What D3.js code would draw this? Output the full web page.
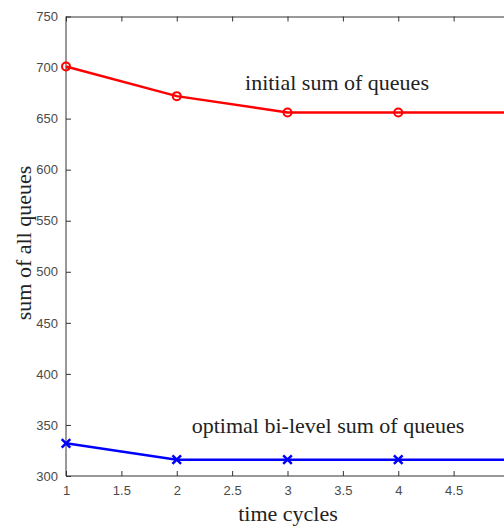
<!DOCTYPE html>
<html>
<head>
<meta charset="utf-8">
<script src="https://cdn.jsdelivr.net/npm/d3@7"></script>
<style>
  body { margin: 0; background: #fff; overflow: hidden; }
  svg { display: block; }
  .tick text { font-family: "Liberation Sans", Arial, sans-serif; font-size: 13px; fill: #4a4a4a; }
  .label { font-family: "Liberation Serif", "Times New Roman", serif; fill: #222; }
</style>
</head>
<body>
<svg id="chart" width="504" height="529"></svg>
<script>
const cycles = [1, 2, 3, 4, 5];
const initialSum = [701, 672, 656, 656, 656];
const optimalSum = [332, 316, 316, 316, 316];
const xTicks = [1, 1.5, 2, 2.5, 3, 3.5, 4, 4.5, 5];
const yTicks = [300, 350, 400, 450, 500, 550, 600, 650, 700, 750];

const margin = { left: 66, top: 16.5, right: 509, bottom: 476 };
const svg = d3.select('#chart');

const x = d3.scaleLinear().domain([1, 5]).range([margin.left, margin.right]);
const y = d3.scaleLinear().domain([300, 750]).range([margin.bottom, margin.top]);

const axisColor = '#333';

// bottom / left axes with inward ticks
const xAxis = svg.append('g')
  .attr('transform', `translate(0, ${margin.bottom})`)
  .call(d3.axisBottom(x).tickValues(xTicks).tickSizeInner(-5).tickSizeOuter(0).tickPadding(10)
    .tickFormat(d3.format('')));
const yAxis = svg.append('g')
  .attr('transform', `translate(${margin.left}, 0)`)
  .call(d3.axisLeft(y).tickValues(yTicks).tickSizeInner(-5).tickSizeOuter(0).tickPadding(8));

// top / right box axes
const xTop = svg.append('g')
  .attr('transform', `translate(0, ${margin.top})`)
  .call(d3.axisTop(x).tickValues(xTicks).tickSizeInner(-5).tickSizeOuter(0).tickFormat(''));
const yRight = svg.append('g')
  .attr('transform', `translate(${margin.right}, 0)`)
  .call(d3.axisRight(y).tickValues(yTicks).tickSizeInner(-5).tickSizeOuter(0).tickFormat(''));

[xAxis, yAxis, xTop, yRight].forEach(g => {
  g.selectAll('path.domain').attr('stroke', axisColor);
  g.selectAll('.tick line').attr('stroke', axisColor);
});
xAxis.select('path.domain').attr('d', `M${margin.left},0H${margin.right}`);
yAxis.select('path.domain').attr('d', `M0,${margin.bottom}V${margin.top}`);

const line = d3.line()
  .x((d, i) => x(cycles[i]))
  .y(d => y(d));

// red: initial sum
svg.append('path')
  .datum(initialSum)
  .attr('fill', 'none')
  .attr('stroke', '#ff0000')
  .attr('stroke-width', 2.5)
  .attr('d', line);
svg.selectAll('.red-marker')
  .data(initialSum)
  .join('circle')
  .attr('class', 'red-marker')
  .attr('cx', (d, i) => x(cycles[i]))
  .attr('cy', d => y(d))
  .attr('r', 4)
  .attr('fill', 'none')
  .attr('stroke', '#ff0000')
  .attr('stroke-width', 2);

// blue: optimal bi-level sum
svg.append('path')
  .datum(optimalSum)
  .attr('fill', 'none')
  .attr('stroke', '#0000ff')
  .attr('stroke-width', 2.5)
  .attr('d', line);
svg.selectAll('.blue-marker')
  .data(optimalSum)
  .join('path')
  .attr('class', 'blue-marker')
  .attr('transform', (d, i) => `translate(${x(cycles[i])}, ${y(d)})`)
  .attr('d', d3.symbol(d3.symbolTimes, 50))
  .attr('fill', 'none')
  .attr('stroke', '#0000ff')
  .attr('stroke-width', 2.5);

// annotations
svg.append('text')
  .attr('class', 'label')
  .attr('x', 337)
  .attr('y', 90)
  .attr('text-anchor', 'middle')
  .attr('font-size', 22)
  .text('initial sum of queues');
svg.append('text')
  .attr('class', 'label')
  .attr('x', 328)
  .attr('y', 433)
  .attr('text-anchor', 'middle')
  .attr('font-size', 22)
  .text('optimal bi-level sum of queues');

// axis titles
svg.append('text')
  .attr('class', 'label')
  .attr('x', 288)
  .attr('y', 521)
  .attr('text-anchor', 'middle')
  .attr('font-size', 22)
  .text('time cycles');
svg.append('text')
  .attr('class', 'label')
  .attr('transform', `translate(31, 243) rotate(-90)`)
  .attr('text-anchor', 'middle')
  .attr('font-size', 22)
  .text('sum of all queues');
</script>
</body>
</html>
